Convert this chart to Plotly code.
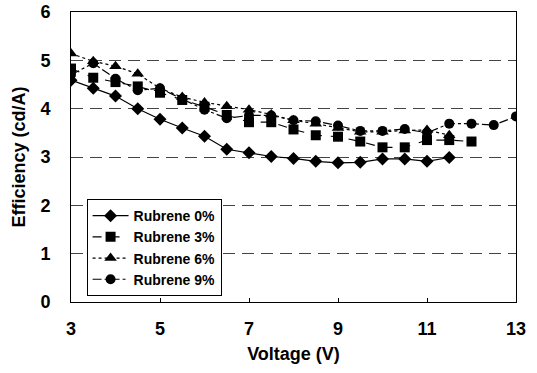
import plotly.graph_objects as go

x0 = [3, 3.5, 4, 4.5, 5, 5.5, 6, 6.5, 7, 7.5, 8, 8.5, 9, 9.5, 10, 10.5, 11, 11.5]
y0 = [4.59, 4.42, 4.26, 4.00, 3.78, 3.60, 3.43, 3.16, 3.09, 3.01, 2.97, 2.91, 2.88, 2.89, 2.96, 2.96, 2.91, 2.99]

x3 = [3, 3.5, 4, 4.5, 5, 5.5, 6, 6.5, 7, 7.5, 8, 8.5, 9, 9.5, 10, 10.5, 11, 11.5, 12]
y3 = [4.83, 4.64, 4.55, 4.46, 4.33, 4.18, 4.04, 3.87, 3.72, 3.72, 3.57, 3.45, 3.42, 3.32, 3.20, 3.20, 3.35, 3.35, 3.32]

x6 = [3, 3.5, 4, 4.5, 5, 5.5, 6, 6.5, 7, 7.5, 8, 8.5, 9, 9.5, 10, 10.5, 11, 11.5]
y6 = [5.14, 4.98, 4.88, 4.72, 4.42, 4.24, 4.13, 4.05, 3.98, 3.88, 3.76, 3.69, 3.60, 3.52, 3.52, 3.55, 3.56, 3.45]

x9 = [3, 3.5, 4, 4.5, 5, 5.5, 6, 6.5, 7, 7.5, 8, 8.5, 9, 9.5, 10, 10.5, 11, 11.5, 12, 12.5, 13]
y9 = [4.70, 4.94, 4.62, 4.38, 4.42, 4.20, 3.98, 3.80, 3.86, 3.86, 3.76, 3.74, 3.65, 3.54, 3.54, 3.58, 3.50, 3.69, 3.69, 3.66, 3.84]

names = ["Rubrene 0%", "Rubrene 3%", "Rubrene 6%", "Rubrene 9%"]
series = [(x0, y0), (x3, y3), (x6, y6), (x9, y9)]
dashes = ["solid", "dash", "dot", "dashdot"]
symbols = ["diamond", "square", "triangle-up", "circle"]
sizes = [10, 10, 11, 10]

fig = go.Figure()
for (xs, ys), n, d, s, sz in zip(series, names, dashes, symbols, sizes):
    fig.add_trace(go.Scatter(
        x=xs, y=ys, name=n, mode="lines+markers",
        line=dict(color="black", width=1.2, dash=d),
        marker=dict(symbol=s, size=sz, color="black"),
    ))

FAM = "Liberation Sans, Arial"
bold18 = dict(family=FAM, size=18, color="black", weight="bold")

fig.update_layout(
    width=537, height=373,
    margin=dict(l=71, r=21, t=12, b=71),
    paper_bgcolor="white", plot_bgcolor="white",
    font=dict(family=FAM, size=16, color="black"),
    showlegend=True,
    legend=dict(
        x=0.035, y=0.355, xanchor="left", yanchor="top",
        bgcolor="white", bordercolor="black", borderwidth=1,
        font=dict(family=FAM, size=14, color="black", weight="bold"),
        tracegroupgap=0, itemwidth=36,
    ),
    xaxis=dict(
        range=[3, 13], tickvals=[3, 5, 7, 9, 11, 13],
        showline=True, linecolor="black", linewidth=1, mirror=True,
        showgrid=False, zeroline=False, automargin=False,
        ticks="inside", ticklen=4, tickcolor="black",
        ticklabelstandoff=10,
        tickfont=bold18,
        title=dict(text="Voltage (V)", standoff=9, font=bold18),
    ),
    yaxis=dict(
        range=[0, 6], tickvals=[0, 1, 2, 3, 4, 5, 6],
        showline=True, linecolor="black", linewidth=1, mirror=True,
        showgrid=True, gridcolor="#444444", griddash="12px,7px", gridwidth=1,
        zeroline=False, automargin=False,
        ticks="", ticklabelstandoff=16,
        tickfont=bold18,
        title=dict(text="Efficiency (cd/A)", standoff=10, font=bold18),
    ),
)

fig.write_html("out.html", config={"displayModeBar": False},
               post_script="document.body.style.margin='0px';")
